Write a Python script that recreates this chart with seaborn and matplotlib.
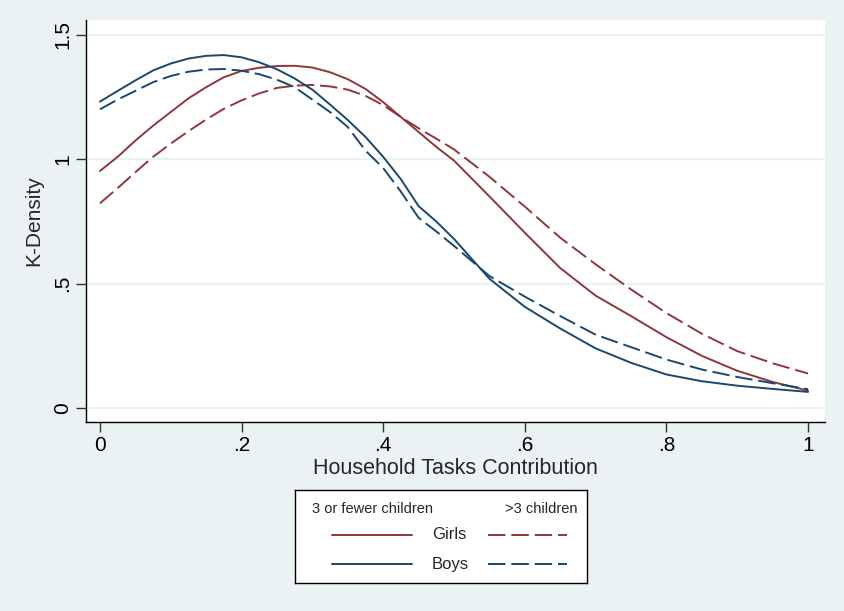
import numpy as np
import pandas as pd
import matplotlib
matplotlib.use("Agg")
import matplotlib.pyplot as plt
import seaborn as sns
from matplotlib.lines import Line2D

# ---- data ----
x_grid = [0.000, 0.025, 0.050, 0.075, 0.100, 0.125, 0.150, 0.175, 0.200, 0.225,
          0.250, 0.275, 0.300, 0.325, 0.350, 0.375, 0.400, 0.425, 0.450, 0.475,
          0.500, 0.550, 0.600, 0.650, 0.700, 0.750, 0.800, 0.850, 0.900, 0.950, 1.000]
girls_few = [0.953, 1.010, 1.075, 1.135, 1.190, 1.245, 1.290, 1.330, 1.355, 1.368,
             1.375, 1.376, 1.369, 1.350, 1.322, 1.283, 1.230, 1.170, 1.110, 1.050,
             0.995, 0.851, 0.705, 0.563, 0.452, 0.370, 0.285, 0.210, 0.150, 0.105, 0.070]
girls_many = [0.823, 0.884, 0.948, 1.010, 1.063, 1.113, 1.160, 1.203, 1.237, 1.265,
              1.287, 1.296, 1.299, 1.293, 1.280, 1.255, 1.218, 1.170, 1.125, 1.083,
              1.040, 0.930, 0.810, 0.685, 0.578, 0.477, 0.382, 0.299, 0.229, 0.180, 0.139]
boys_few = [1.232, 1.275, 1.317, 1.357, 1.385, 1.405, 1.416, 1.419, 1.410, 1.390,
            1.362, 1.325, 1.280, 1.220, 1.158, 1.090, 1.010, 0.920, 0.812, 0.750,
            0.680, 0.520, 0.407, 0.320, 0.240, 0.182, 0.135, 0.108, 0.090, 0.077, 0.065]
boys_many = [1.201, 1.240, 1.275, 1.310, 1.335, 1.352, 1.361, 1.363, 1.356, 1.342,
             1.320, 1.290, 1.240, 1.190, 1.130, 1.035, 0.965, 0.870, 0.765, 0.710,
             0.652, 0.531, 0.448, 0.370, 0.295, 0.245, 0.195, 0.155, 0.125, 0.100, 0.076]

series_names = ["Girls", "Boys"]
group_names = ["3 or fewer children", ">3 children"]
x_ticks = [0, 0.2, 0.4, 0.6, 0.8, 1.0]
x_tick_labels = ["0", ".2", ".4", ".6", ".8", "1"]
y_ticks = [0, 0.5, 1.0, 1.5]
y_tick_labels = ["0", ".5", "1", "1.5"]

rows = []
for sex, grp, vals in [("Girls", group_names[0], girls_few),
                       ("Girls", group_names[1], girls_many),
                       ("Boys", group_names[0], boys_few),
                       ("Boys", group_names[1], boys_many)]:
    for xv, yv in zip(x_grid, vals):
        rows.append({"x": xv, "y": yv, "Sex": sex, "Group": grp})
df = pd.DataFrame(rows)

# ---- style ----
BG = "#EAF2F3"
NAVY = "#1A476F"
MAROON = "#90353B"
sns.set_theme(style="white")
plt.rcParams["font.family"] = ["Liberation Sans", "DejaVu Sans"]

fig = plt.figure(figsize=(8.45, 6.11), dpi=100, facecolor=BG)
ax = fig.add_axes([86 / 845, 1 - 422 / 611, (825 - 86) / 845, (422 - 20) / 611])
ax.set_facecolor("white")

dash_style = (9, 3)
sns.lineplot(data=df, x="x", y="y", hue="Sex", style="Group",
             hue_order=series_names, style_order=group_names,
             palette={"Girls": MAROON, "Boys": NAVY},
             dashes={group_names[0]: "", group_names[1]: dash_style},
             estimator=None, sort=True, lw=1.4, legend=False, ax=ax, zorder=3)

ax.set_xlim(-0.0197, 1.024)
ax.set_ylim(-0.056, 1.56)
ax.set_xticks(x_ticks)
ax.set_xticklabels(x_tick_labels)
ax.set_yticks(y_ticks)
ax.set_yticklabels(y_tick_labels, rotation=90, va="center")
ax.yaxis.grid(True, color=BG, lw=1.6, zorder=0)
ax.xaxis.grid(False)
for s in ["top", "right"]:
    ax.spines[s].set_visible(False)
for s in ["left", "bottom"]:
    ax.spines[s].set_color("black")
    ax.spines[s].set_linewidth(1.0)
ax.tick_params(axis="both", which="major", direction="out", length=7, width=1,
               color="#333333", labelsize=15, labelcolor="black", pad=3, bottom=True, left=True)
ax.set_xlabel("Household Tasks Contribution", fontsize=15.5, labelpad=2)
ax.set_ylabel("K-Density", fontsize=15, labelpad=7)

# ---- legend box ----
lax = fig.add_axes([295 / 845, 1 - 583 / 611, (587 - 295) / 845, (583 - 490) / 611])
lax.set_xlim(0, 1)
lax.set_ylim(0, 1)
lax.set_xticks([])
lax.set_yticks([])
lax.set_facecolor("white")
for s in lax.spines.values():
    s.set_color("black")
    s.set_linewidth(1.0)
lax.text(0.265, 0.80, group_names[0], ha="center", va="center", fontsize=10.5)
lax.text(0.845, 0.80, group_names[1], ha="center", va="center", fontsize=10.5)
for yy, name, col in [(0.52, "Girls", MAROON), (0.20, "Boys", NAVY)]:
    lax.add_line(Line2D([0.128, 0.400], [yy, yy], color=col, lw=1.4))
    lax.add_line(Line2D([0.660, 0.930], [yy, yy], color=col, lw=1.4, dashes=dash_style))
    lax.text(0.53, yy, name, ha="center", va="center", fontsize=12)

fig.savefig("out.png", dpi=100, facecolor=BG)
